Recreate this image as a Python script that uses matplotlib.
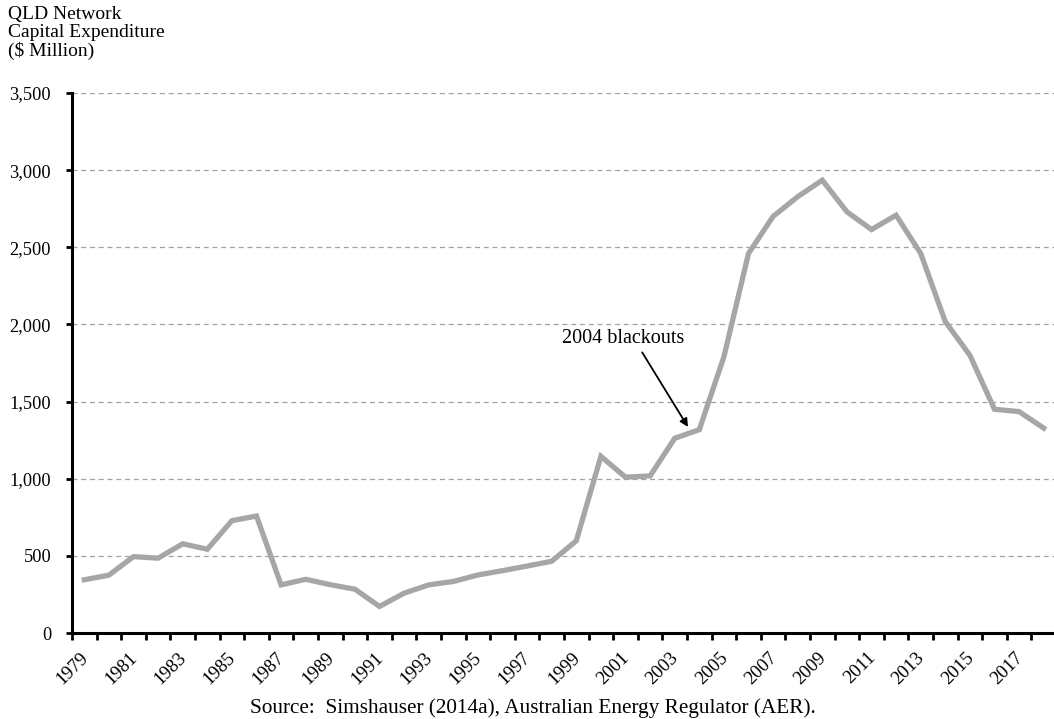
import matplotlib
matplotlib.use("Agg")
import matplotlib.pyplot as plt
from matplotlib.ticker import FixedLocator, FuncFormatter

plt.rcParams['font.family'] = ['Liberation Serif', 'DejaVu Serif']

years = list(range(1979, 2019))
capex = [345, 375, 495, 485, 578, 543, 728, 758, 312, 348,
         313, 284, 172, 258, 312, 334, 376, 404, 434, 465,
         598, 1145, 1010, 1018, 1262, 1318, 1790, 2460, 2700, 2828,
         2935, 2730, 2615, 2708, 2460, 2018, 1800, 1450, 1435, 1328]
y_ticks = [0, 500, 1000, 1500, 2000, 2500, 3000, 3500]
ylabel_text = "QLD Network\nCapital Expenditure\n(\\$ Million)"
source_text = "Source:  Simshauser (2014a), Australian Energy Regulator (AER)."
annotation_text = "2004 blackouts"

fig = plt.figure(figsize=(10.54, 7.19), dpi=100)
ax = fig.add_axes([72/1054, 1 - 633/719, (1056-72)/1054, (633-93)/719])

x = list(range(len(years)))
ax.plot(x, capex, color='#A6A6A6', lw=3.8, solid_joinstyle='miter', zorder=3)

ax.set_xlim(-0.5, len(years) - 0.5)
ax.set_ylim(0, 3500)

# y axis
ax.set_yticks(y_ticks)
ax.yaxis.set_major_formatter(FuncFormatter(lambda v, p: f"{int(v):,}"))
ax.tick_params(axis='y', direction='out', length=4, width=2, labelsize=13.2, pad=11)
ax.yaxis.grid(True, linestyle=(0, (4, 3)), color='#A0A0A0', lw=0.9)
ax.set_axisbelow(True)

# x axis: tick marks between categories, labels every other year
ax.xaxis.set_major_locator(FixedLocator([i - 0.5 for i in range(len(years) + 1)]))
ax.xaxis.set_major_formatter(FuncFormatter(lambda v, p: ""))
ax.tick_params(axis='x', direction='out', length=5, width=2)
lab_pos = x[::2]
for i in lab_pos:
    ax.text(i - 0.2, -105, str(years[i]), rotation=45, ha='right', va='top',
            rotation_mode='anchor', fontsize=13.5)

for s in ['top', 'right']:
    ax.spines[s].set_visible(False)
for s in ['left', 'bottom']:
    ax.spines[s].set_linewidth(2.2)
    ax.spines[s].set_color('black')

fig.text(8/1054, 1 - 6/719, ylabel_text, ha='left', va='top', fontsize=14, linespacing=1.08)
fig.text(533/1054, 1 - 708/719, source_text, ha='center', va='center', fontsize=15.3)

ax.annotate('', xy=(24.6, 1320), xytext=(22.62, 1834),
            arrowprops=dict(arrowstyle='-|>', color='black', lw=1.3, mutation_scale=12))
ax.text(21.92, 1912, annotation_text, ha='center', va='center', fontsize=14.5)

fig.savefig('out.png', dpi=100)
